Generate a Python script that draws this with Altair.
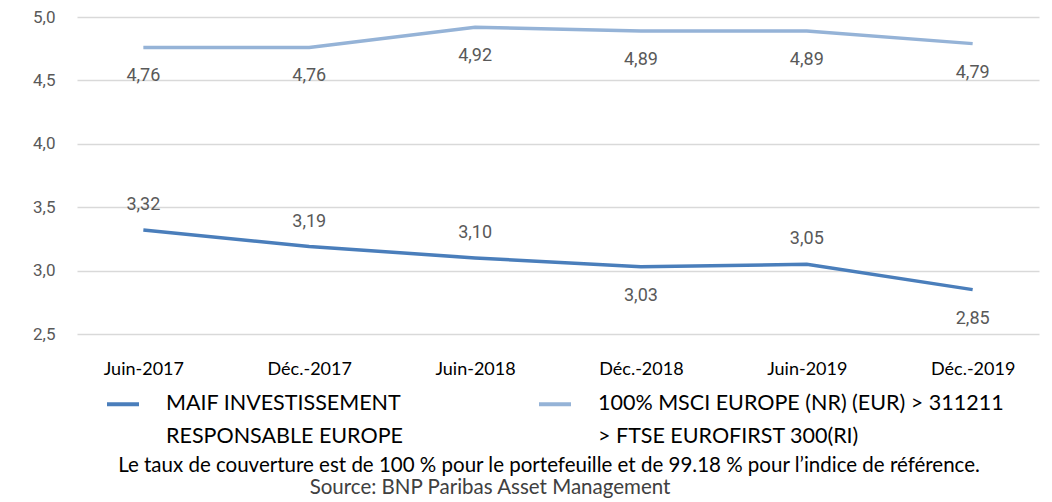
import altair as alt
import pandas as pd

categories = ["Juin-2017", "Déc.-2017", "Juin-2018", "Déc.-2018", "Juin-2019", "Déc.-2019"]
series_names = [
    "MAIF INVESTISSEMENT\nRESPONSABLE EUROPE",
    "100% MSCI EUROPE (NR) (EUR) > 311211\n> FTSE EUROFIRST 300(RI)",
]
maif_values = [3.32, 3.19, 3.10, 3.03, 3.05, 2.85]
index_values = [4.76, 4.76, 4.92, 4.89, 4.89, 4.79]
y_ticks = [2.5, 3.0, 3.5, 4.0, 4.5, 5.0]
footer_note = "Le taux de couverture est de 100 % pour le portefeuille et de 99.18 % pour l\u2019indice de référence."
source_note = "Source: BNP Paribas Asset Management"

series_colors = ["#4A7EBB", "#95B3D7"]

rows = []
for cat, v in zip(categories, maif_values):
    rows.append({"category": cat, "series": series_names[0], "value": v})
for cat, v in zip(categories, index_values):
    rows.append({"category": cat, "series": series_names[1], "value": v})
df = pd.DataFrame(rows)

W, H = 962, 317

x_enc = alt.X(
    "category:N",
    sort=categories,
    scale=alt.Scale(padding=0.4),
    axis=alt.Axis(
        title=None, domain=False, ticks=False, grid=False, labelAngle=0,
        labelFont="Lato", labelFontSize=18, labelColor="#000000",
        labelPadding=26, labelBaseline="top",
    ),
)
y_enc = alt.Y(
    "value:Q",
    scale=alt.Scale(domain=[2.5, 5.0], nice=False, zero=False),
    axis=alt.Axis(
        title=None, domain=False, ticks=False, values=y_ticks,
        labelExpr="replace(format(datum.value, '.1f'), '.', ',')",
        labelFont="Roboto", labelFontSize=17, labelColor="#595959",
        labelPadding=22, gridColor="#D9D9D9", gridWidth=1.5,
    ),
)

base = alt.Chart(df)

lines = base.mark_line(strokeWidth=3.5).encode(
    x=x_enc,
    y=y_enc,
    color=alt.Color(
        "series:N",
        sort=series_names,
        scale=alt.Scale(domain=series_names, range=series_colors),
        legend=alt.Legend(
            title=None, orient="none", legendX=28, legendY=369, columns=2,
            columnPadding=128, symbolType="stroke", symbolSize=1024,
            symbolStrokeWidth=4, labelFont="Lato", labelFontSize=21.5,
            labelColor="#000000", labelOffset=25, labelLimit=700,
            labelExpr="split(datum.label, '\\n')", labelBaseline="middle",
        ),
    ),
)

below_test = (
    f"datum.series == '{series_names[1].replace(chr(10), '\\n')}'"
    " || datum.category == 'Déc.-2018' || datum.category == 'Déc.-2019'"
)

label_fmt = "replace(format(datum.value, '.2f'), '.', ',')"

labels_above = base.transform_filter(f"!({below_test})").transform_calculate(
    lbl=label_fmt
).mark_text(font="Roboto", fontSize=18, color="#595959", dy=-25).encode(
    x=alt.X("category:N", sort=categories), y="value:Q", text="lbl:N"
)
labels_below = base.transform_filter(below_test).transform_calculate(
    lbl=label_fmt
).mark_text(font="Roboto", fontSize=18, color="#595959", dy=29).encode(
    x=alt.X("category:N", sort=categories), y="value:Q", text="lbl:N"
)

footer = alt.Chart(pd.DataFrame({"t": [footer_note]})).mark_text(
    font="Lato", fontSize=20.5, color="#000000", align="center"
).encode(text="t:N", x=alt.value(472), y=alt.value(449))

source = alt.Chart(pd.DataFrame({"t": [source_note]})).mark_text(
    font="Lato", fontSize=20.5, color="#404040", align="center"
).encode(text="t:N", x=alt.value(413), y=alt.value(471))

chart = alt.layer(lines, labels_above, labels_below, footer, source).properties(
    width=W, height=H,
    autosize=alt.AutoSizeParams(type="none"),
    padding={"left": 69, "top": 9, "right": 5, "bottom": 180},
).configure(
    style={"guide-label": {"lineHeight": 33}},
    view=alt.ViewConfig(stroke=None),
)

chart.save("out.html", embed_options={"renderer": "svg", "actions": False})
